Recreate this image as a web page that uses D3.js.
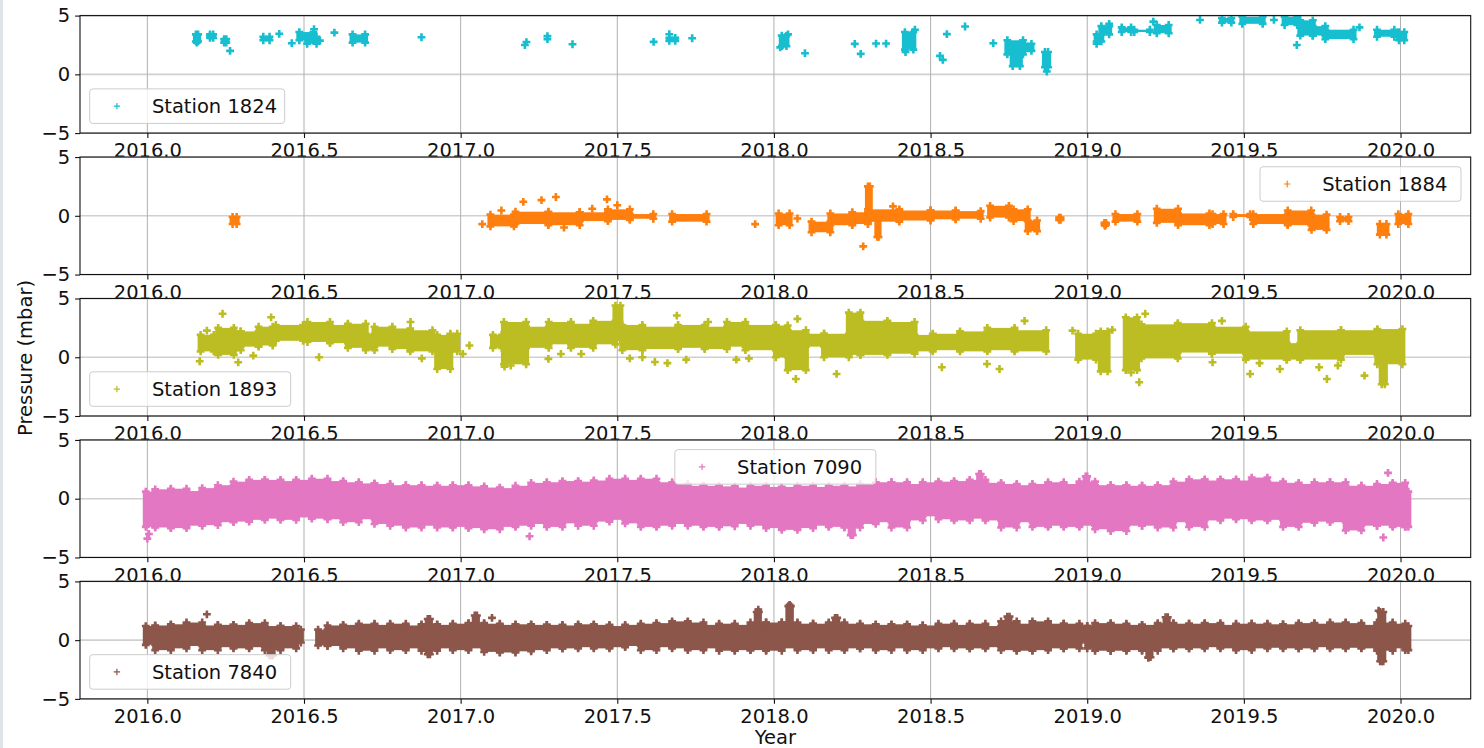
<!DOCTYPE html>
<html>
<head>
<meta charset="utf-8">
<script src="https://cdn.jsdelivr.net/npm/d3@7"></script>
<style>
  body { margin: 0; background: #fff; }
  text { font-family: "DejaVu Sans", sans-serif; }
</style>
</head>
<body>
<div id="mainchart"></div>
<script>
// ---- data (year, mbar) ----
// blocks: [t0, t1, low, high] dense clouds of '+' markers; pts: [t, value] single markers
var blk1824 = [
  [2016.155, 2016.162, 2.8, 3.4], [2016.200, 2016.210, 3.1, 3.4], [2016.245, 2016.252, 2.7, 3.0],
  [2016.370, 2016.390, 2.9, 3.2], [2016.485, 2016.530, 2.9, 3.6], [2016.510, 2016.540, 2.6, 3.2],
  [2016.655, 2016.695, 2.7, 3.4], [2017.666, 2017.685, 2.85, 3.1], [2018.025, 2018.040, 2.4, 3.3],
  [2018.418, 2018.445, 2.1, 3.6], [2018.745, 2018.795, 1.7, 2.9], [2018.762, 2018.785, 0.7, 2.0],
  [2018.800, 2018.822, 2.0, 2.6], [2018.865, 2018.875, 0.6, 1.9], [2019.030, 2019.045, 2.8, 3.4],
  [2019.045, 2019.070, 3.4, 4.1], [2019.110, 2019.140, 3.6, 4.0], [2019.150, 2019.200, 3.6, 3.8],
  [2019.222, 2019.260, 3.5, 4.2], [2019.430, 2019.460, 4.4, 4.8], [2019.495, 2019.560, 4.3, 4.9],
  [2019.630, 2019.670, 4.2, 4.9], [2019.680, 2019.720, 3.3, 4.6], [2019.720, 2019.760, 3.3, 4.1],
  [2019.760, 2019.850, 3.0, 3.8], [2019.925, 2019.980, 3.2, 3.8], [2019.995, 2020.012, 2.9, 3.6]
];
var pts1824 = [
  [2016.158, 2.7], [2016.200, 3.25], [2016.264, 2.0], [2016.421, 3.45], [2016.461, 2.65],
  [2016.532, 3.84], [2016.551, 2.87], [2016.597, 3.55], [2016.875, 3.16], [2017.205, 2.5],
  [2017.210, 2.75], [2017.277, 3.25], [2017.277, 3.0], [2017.357, 2.56], [2017.616, 2.76],
  [2017.666, 3.41], [2017.739, 3.07], [2018.020, 2.3], [2018.045, 3.4], [2018.099, 1.8],
  [2018.258, 2.59], [2018.277, 1.74], [2018.326, 2.62], [2018.358, 2.62], [2018.420, 1.9],
  [2018.450, 3.8], [2018.530, 1.57], [2018.539, 1.23], [2018.552, 3.42], [2018.610, 4.07],
  [2018.700, 2.65], [2018.871, 0.24], [2019.030, 2.6], [2019.070, 4.3], [2019.211, 4.49],
  [2019.360, 4.63], [2019.596, 4.63], [2019.669, 2.5], [2019.869, 4.0]
];

var blk1884 = [
  [2016.272, 2016.285, -0.7, -0.1], [2017.095, 2017.170, -0.9, 0.1], [2017.175, 2017.280, -0.7, 0.35],
  [2017.280, 2017.380, -0.8, 0.3], [2017.380, 2017.470, -0.45, 0.3], [2017.470, 2017.540, -0.35, 0.55],
  [2017.540, 2017.615, -0.25, 0.15], [2017.675, 2017.785, -0.5, 0.15], [2018.015, 2018.050, -0.8, 0.2],
  [2018.120, 2018.180, -1.4, -0.5], [2018.180, 2018.250, -0.8, 0.2], [2018.250, 2018.300, -0.7, 0.3],
  [2018.300, 2018.306, -0.4, 2.5], [2018.330, 2018.334, -1.8, -0.2], [2018.300, 2018.400, -0.5, 0.55],
  [2018.400, 2018.500, -0.4, 0.45], [2018.500, 2018.580, -0.3, 0.45], [2018.580, 2018.660, -0.25, 0.4],
  [2018.690, 2018.750, -0.15, 0.85], [2018.765, 2018.810, -0.45, 0.55], [2018.810, 2018.840, -1.3, -0.4],
  [2018.910, 2018.915, -0.35, -0.15], [2019.055, 2019.060, -0.75, -0.6], [2019.090, 2019.160, -0.5, 0.15],
  [2019.222, 2019.290, -0.6, 0.6], [2019.290, 2019.390, -0.8, 0.2], [2019.400, 2019.435, -0.7, 0.15],
  [2019.466, 2019.520, -0.1, 0.15], [2019.530, 2019.640, -0.7, 0.15], [2019.640, 2019.715, -0.8, 0.45],
  [2019.716, 2019.764, -1.2, 0.1], [2019.807, 2019.834, -0.45, -0.1], [2019.934, 2019.955, -1.6, -0.7],
  [2019.993, 2020.025, -0.7, 0.15]
];
var pts1884 = [
  [2017.069, -0.71], [2017.130, 0.45], [2017.200, 1.19], [2017.258, 1.33], [2017.304, 1.6],
  [2017.330, -1.0], [2017.420, 0.6], [2017.467, 1.4], [2017.500, 0.9], [2017.940, -0.71],
  [2018.075, -0.23], [2018.285, -2.6], [2018.380, 0.8], [2018.913, -0.23], [2019.057, -0.85]
];

var blk1893 = [
  [2016.170, 2016.212, 0.5, 1.9], [2016.226, 2016.276, 0.2, 2.5], [2016.276, 2016.298, 0.6, 2.2],
  [2016.298, 2016.355, 0.9, 2.2], [2016.355, 2016.400, 1.0, 2.6], [2016.410, 2016.497, 1.4, 2.75],
  [2016.511, 2016.583, 1.3, 3.0], [2016.583, 2016.640, 1.2, 2.75], [2016.640, 2016.697, 0.8, 2.85],
  [2016.697, 2016.725, 0.6, 2.0], [2016.725, 2016.782, 0.9, 2.6], [2016.782, 2016.839, 0.7, 2.45],
  [2016.839, 2016.910, 0.5, 2.3], [2016.925, 2016.967, -1.0, 1.9], [2016.967, 2016.989, 0.5, 2.0],
  [2017.103, 2017.131, 0.8, 1.9], [2017.138, 2017.209, -0.6, 3.0], [2017.209, 2017.281, 0.8, 2.6],
  [2017.281, 2017.352, 1.1, 3.0], [2017.352, 2017.423, 0.8, 2.85], [2017.423, 2017.494, 1.1, 3.1],
  [2017.494, 2017.510, 1.5, 4.4], [2017.516, 2017.580, 0.6, 2.75], [2017.580, 2017.694, 0.7, 2.6],
  [2017.694, 2017.779, 0.8, 2.75], [2017.779, 2017.850, 0.7, 2.6], [2017.850, 2017.909, 0.9, 3.0],
  [2017.909, 2018.006, 0.6, 2.75], [2018.006, 2018.044, 0.0, 2.7], [2018.044, 2018.102, -1.1, 2.3],
  [2018.102, 2018.160, 0.9, 2.0], [2018.160, 2018.239, 0.0, 2.0], [2018.239, 2018.276, 0.2, 3.8],
  [2018.276, 2018.362, 0.2, 3.1], [2018.362, 2018.449, 0.3, 3.0], [2018.449, 2018.507, 0.5, 1.9],
  [2018.507, 2018.594, 0.6, 2.0], [2018.594, 2018.681, 0.5, 2.2], [2018.681, 2018.768, 0.6, 2.5],
  [2018.768, 2018.869, 0.5, 2.3], [2018.971, 2019.028, -0.2, 2.0], [2019.043, 2019.065, -1.2, 2.2],
  [2019.123, 2019.159, -1.1, 3.4], [2019.173, 2019.289, -0.1, 2.8], [2019.289, 2019.398, 0.4, 2.9],
  [2019.398, 2019.506, 0.3, 2.6], [2019.506, 2019.637, -0.2, 2.2], [2019.637, 2019.680, -0.2, 1.2],
  [2019.680, 2019.810, -0.2, 2.3], [2019.810, 2019.926, 0.2, 2.3], [2019.926, 2020.006, -0.6, 2.4],
  [2019.940, 2019.950, -2.3, 0.0]
];
var pts1893 = [
  [2016.167, -0.34], [2016.190, 2.27], [2016.240, 3.7], [2016.290, -0.43], [2016.338, 0.14],
  [2016.395, 3.4], [2016.548, 0.0], [2016.840, 3.0], [2016.876, -0.1], [2017.007, 0.28],
  [2017.028, 1.0], [2017.140, -0.8], [2017.160, -0.7], [2017.280, -0.14], [2017.320, 0.28],
  [2017.385, 0.28], [2017.540, -0.1], [2017.580, 0.0], [2017.620, -0.4], [2017.660, -0.5],
  [2017.690, 3.55], [2017.720, -0.2], [2017.790, 3.0], [2017.880, -0.2], [2017.920, -0.1],
  [2018.070, -1.85], [2018.075, 3.27], [2018.200, -1.42], [2018.536, -0.85], [2018.680, -0.57],
  [2018.720, -1.0], [2018.800, 3.1], [2018.953, 2.27], [2019.080, 2.33], [2019.140, -1.3],
  [2019.166, -2.13], [2019.185, 3.7], [2019.400, -0.43], [2019.430, 3.1], [2019.520, -1.42],
  [2019.550, -0.5], [2019.615, -1.0], [2019.740, -0.85], [2019.765, -1.85], [2019.800, -0.7],
  [2019.885, -1.56]
];

var blk7090 = [
  [2015.995, 2016.025, -2.4, 0.6], [2016.025, 2016.075, -2.45, 0.8], [2016.075, 2016.125, -2.5, 0.85],
  [2016.125, 2016.175, -2.3, 0.65], [2016.175, 2016.225, -2.25, 0.9], [2016.225, 2016.275, -2.0, 1.15],
  [2016.275, 2016.325, -1.95, 1.45], [2016.325, 2016.375, -1.8, 1.6], [2016.375, 2016.425, -1.7, 1.6],
  [2016.425, 2016.475, -1.8, 1.5], [2016.475, 2016.525, -1.6, 1.6], [2016.525, 2016.575, -1.7, 1.7],
  [2016.575, 2016.625, -1.75, 1.5], [2016.625, 2016.675, -2.0, 1.4], [2016.675, 2016.725, -1.75, 1.3],
  [2016.725, 2016.775, -2.15, 1.25], [2016.775, 2016.825, -2.3, 1.15], [2016.825, 2016.875, -2.45, 1.15],
  [2016.875, 2016.925, -2.3, 1.1], [2016.925, 2016.975, -2.45, 1.1], [2016.975, 2017.025, -2.4, 1.15],
  [2017.025, 2017.075, -2.5, 1.05], [2017.075, 2017.125, -2.6, 0.95], [2017.125, 2017.175, -2.4, 0.9],
  [2017.175, 2017.225, -2.3, 1.1], [2017.225, 2017.275, -2.15, 1.35], [2017.275, 2017.325, -2.4, 1.4],
  [2017.325, 2017.375, -2.1, 1.5], [2017.375, 2017.425, -2.3, 1.45], [2017.425, 2017.475, -1.95, 1.55],
  [2017.475, 2017.525, -1.8, 1.7], [2017.525, 2017.575, -2.1, 1.6], [2017.575, 2017.625, -2.4, 1.7],
  [2017.625, 2017.675, -2.3, 1.4], [2017.675, 2017.725, -2.15, 1.25], [2017.725, 2017.775, -2.3, 1.1],
  [2017.775, 2017.825, -2.4, 1.1], [2017.825, 2017.875, -2.35, 1.05], [2017.875, 2017.925, -2.15, 0.95],
  [2017.925, 2017.975, -2.3, 1.1], [2017.975, 2018.025, -2.5, 1.0], [2018.025, 2018.075, -2.65, 1.0],
  [2018.075, 2018.125, -2.5, 1.1], [2018.125, 2018.175, -2.3, 1.0], [2018.175, 2018.225, -2.4, 1.1],
  [2018.225, 2018.275, -2.45, 1.05], [2018.245, 2018.252, -3.1, -2.0], [2018.275, 2018.325, -2.15, 1.25],
  [2018.325, 2018.375, -2.0, 1.4], [2018.375, 2018.425, -2.45, 1.4], [2018.425, 2018.475, -1.85, 1.25],
  [2018.475, 2018.525, -1.5, 1.4], [2018.525, 2018.575, -1.75, 1.45], [2018.575, 2018.625, -1.85, 1.5],
  [2018.625, 2018.675, -1.7, 1.6], [2018.655, 2018.660, 0.0, 2.1], [2018.675, 2018.725, -1.85, 1.35],
  [2018.725, 2018.775, -2.45, 1.25], [2018.775, 2018.825, -2.0, 1.15], [2018.825, 2018.875, -2.4, 1.25],
  [2018.875, 2018.925, -2.3, 1.4], [2018.925, 2018.975, -2.4, 1.25], [2018.975, 2019.025, -2.3, 1.45],
  [2018.995, 2019.000, 0.0, 1.9], [2019.025, 2019.075, -2.6, 1.15], [2019.075, 2019.125, -2.75, 1.15],
  [2019.125, 2019.175, -2.3, 1.1], [2019.175, 2019.225, -2.3, 1.1], [2019.225, 2019.275, -2.45, 1.15],
  [2019.275, 2019.325, -2.0, 1.45], [2019.325, 2019.375, -2.4, 1.65], [2019.375, 2019.425, -1.85, 1.55],
  [2019.425, 2019.475, -1.7, 1.65], [2019.475, 2019.525, -1.75, 1.55], [2019.525, 2019.575, -1.85, 1.8],
  [2019.575, 2019.625, -1.8, 1.45], [2019.625, 2019.675, -2.4, 1.35], [2019.675, 2019.725, -2.05, 1.25],
  [2019.725, 2019.775, -1.95, 1.4], [2019.775, 2019.825, -2.0, 1.4], [2019.825, 2019.875, -2.7, 1.1],
  [2019.875, 2019.925, -2.3, 1.1], [2019.925, 2019.975, -2.3, 1.25], [2019.975, 2020.015, -2.4, 1.35],
  [2020.015, 2020.025, -2.4, 0.6]
];
var pts7090 = [
  [2016.000, -3.4], [2016.005, -3.0], [2017.220, -3.2], [2019.960, 2.2], [2019.945, -3.3]
];

var blk7840 = [
  [2015.995, 2016.025, -0.4, 1.2], [2016.025, 2016.075, -0.85, 1.25], [2016.075, 2016.125, -0.7, 1.35],
  [2016.125, 2016.175, -0.5, 1.5], [2016.175, 2016.225, -0.85, 1.25], [2016.225, 2016.275, -0.6, 1.3],
  [2016.275, 2016.325, -0.7, 1.3], [2016.325, 2016.375, -0.6, 1.45], [2016.375, 2016.425, -0.85, 1.2],
  [2016.390, 2016.400, -1.3, 0.0], [2016.425, 2016.475, -0.7, 1.2], [2016.475, 2016.490, -0.2, 0.9],
  [2016.545, 2016.575, -0.45, 0.9], [2016.575, 2016.625, -0.5, 1.25], [2016.625, 2016.675, -0.7, 1.3],
  [2016.675, 2016.725, -0.9, 1.4], [2016.725, 2016.775, -0.7, 1.3], [2016.775, 2016.825, -0.85, 1.4],
  [2016.825, 2016.875, -0.7, 1.25], [2016.875, 2016.925, -0.9, 1.35], [2016.895, 2016.902, -1.2, 1.8],
  [2016.925, 2016.975, -0.7, 1.3], [2016.975, 2017.025, -0.85, 1.4], [2017.025, 2017.075, -0.7, 1.45],
  [2017.045, 2017.052, 0.5, 2.1], [2017.075, 2017.125, -1.0, 1.4], [2017.125, 2017.175, -1.05, 1.3],
  [2017.175, 2017.225, -0.95, 1.35], [2017.225, 2017.275, -0.85, 1.3], [2017.275, 2017.325, -0.7, 1.3],
  [2017.325, 2017.375, -0.7, 1.25], [2017.375, 2017.425, -0.6, 1.35], [2017.425, 2017.475, -0.7, 1.3],
  [2017.475, 2017.525, -0.6, 1.2], [2017.525, 2017.575, -0.5, 1.3], [2017.575, 2017.625, -0.85, 1.4],
  [2017.625, 2017.675, -0.6, 1.45], [2017.675, 2017.725, -0.7, 1.6], [2017.725, 2017.775, -0.85, 1.5],
  [2017.775, 2017.825, -0.7, 1.3], [2017.825, 2017.875, -0.9, 1.4], [2017.875, 2017.925, -0.85, 1.3],
  [2017.925, 2017.975, -0.85, 1.5], [2017.945, 2017.952, 0.5, 2.4], [2017.975, 2018.025, -0.9, 1.5],
  [2018.025, 2018.075, -0.7, 1.5], [2018.046, 2018.054, 0.5, 2.9], [2018.075, 2018.125, -0.85, 1.4],
  [2018.125, 2018.175, -0.7, 1.4], [2018.175, 2018.225, -0.85, 1.5], [2018.195, 2018.202, 0.5, 1.9],
  [2018.225, 2018.275, -0.7, 1.4], [2018.275, 2018.325, -0.7, 1.35], [2018.325, 2018.375, -0.85, 1.3],
  [2018.375, 2018.425, -0.7, 1.35], [2018.425, 2018.475, -0.85, 1.25], [2018.475, 2018.525, -0.7, 1.25],
  [2018.525, 2018.575, -0.6, 1.4], [2018.575, 2018.625, -0.7, 1.3], [2018.625, 2018.675, -0.7, 1.4],
  [2018.675, 2018.725, -0.6, 1.2], [2018.725, 2018.775, -0.85, 1.6], [2018.745, 2018.752, 0.5, 2.0],
  [2018.775, 2018.825, -0.9, 1.4], [2018.825, 2018.875, -0.85, 1.6], [2018.875, 2018.925, -0.7, 1.4],
  [2018.925, 2018.975, -0.7, 1.4], [2018.975, 2019.000, -0.2, 1.2], [2019.000, 2019.025, -0.7, 1.2],
  [2019.025, 2019.075, -0.9, 1.45], [2019.075, 2019.125, -0.9, 1.4], [2019.125, 2019.175, -0.85, 1.3],
  [2019.175, 2019.225, -0.9, 1.3], [2019.195, 2019.202, -1.45, 0.0], [2019.225, 2019.275, -0.7, 1.45],
  [2019.250, 2019.257, 0.5, 1.95], [2019.275, 2019.325, -0.7, 1.4], [2019.325, 2019.375, -0.7, 1.4],
  [2019.375, 2019.425, -0.6, 1.45], [2019.425, 2019.475, -0.7, 1.3], [2019.475, 2019.525, -0.85, 1.4],
  [2019.525, 2019.575, -0.7, 1.4], [2019.575, 2019.625, -0.65, 1.35], [2019.625, 2019.675, -0.7, 1.35],
  [2019.675, 2019.725, -0.7, 1.45], [2019.725, 2019.775, -0.6, 1.4], [2019.775, 2019.825, -0.7, 1.5],
  [2019.825, 2019.875, -0.65, 1.45], [2019.875, 2019.925, -0.7, 1.3], [2019.925, 2019.975, -0.9, 1.5],
  [2019.935, 2019.945, -1.8, 2.4], [2019.975, 2020.015, -0.7, 1.4], [2020.015, 2020.025, -0.85, 1.2]
];
var pts7840 = [
  [2016.190, 2.2], [2016.395, -1.3], [2017.100, 1.9], [2017.950, 2.6], [2018.050, 3.0],
  [2019.195, -1.5], [2019.930, 2.5], [2019.940, -1.8]
];

var stations = ['Station 1824', 'Station 1884', 'Station 1893', 'Station 7090', 'Station 7840'];
var colors = ['#17becf', '#ff7f0e', '#bcbd22', '#e377c2', '#8c564b'];
var legendLoc = ['lower left', 'upper right', 'lower left', 'upper center', 'lower left'];
var xTicks = [2016.0, 2016.5, 2017.0, 2017.5, 2018.0, 2018.5, 2019.0, 2019.5, 2020.0];
var yTicks = [-5, 0, 5];
var blocks = [blk1824, blk1884, blk1893, blk7090, blk7840];
var points = [pts1824, pts1884, pts1893, pts7090, pts7840];

drawChart();

function drawChart(){
  var width = 1484, height = 748;
  var left = 80, right = 1470.7, panelH = 117.5, gap = 141.45, top0 = 15.6;
  var fs = 19.5;

  var svg = d3.select('#mainchart').append('svg')
    .attr('width', width).attr('height', height);

  // left window edge strip
  svg.append('rect').attr('x', 0).attr('y', 0).attr('width', 3).attr('height', height).attr('fill', '#dde4ea');

  var x = d3.scaleLinear().domain([2015.785, 2020.224]).range([left, right]);
  var cross = d3.symbol().type(d3.symbolCross).size(34);
  var defs = svg.append('defs');

  stations.forEach(function(name, i){
    var top = top0 + i * gap;
    var y = d3.scaleLinear().domain([-5, 5]).range([top + panelH, top]);
    var col = colors[i];
    var g = svg.append('g').attr('class', 'panel');

    g.append('rect').attr('x', left).attr('y', top)
      .attr('width', right - left).attr('height', panelH).attr('fill', '#fff');

    defs.append('clipPath').attr('id', 'clip' + i)
      .append('rect').attr('x', left).attr('y', top)
      .attr('width', right - left).attr('height', panelH);

    // grid
    g.selectAll('line.vgrid').data(xTicks).enter().append('line')
      .attr('class', 'vgrid')
      .attr('x1', d => x(d)).attr('x2', d => x(d))
      .attr('y1', top).attr('y2', top + panelH)
      .attr('stroke', '#b0b0b0').attr('stroke-width', 1);
    g.selectAll('line.hgrid').data(yTicks).enter().append('line')
      .attr('class', 'hgrid')
      .attr('x1', left).attr('x2', right)
      .attr('y1', d => y(d)).attr('y2', d => y(d))
      .attr('stroke', '#b0b0b0').attr('stroke-opacity', 0.6).attr('stroke-width', 1.6);

    var dg = g.append('g').attr('clip-path', 'url(#clip' + i + ')');

    dg.selectAll('rect.blk').data(blocks[i]).enter().append('rect')
      .attr('class', 'blk')
      .attr('x', d => x(d[0]) - 3)
      .attr('width', d => x(d[1]) - x(d[0]) + 6)
      .attr('y', d => y(d[3]))
      .attr('height', d => y(d[2]) - y(d[3]))
      .attr('fill', col);

    // markers at the edges of each cloud, then the single markers
    var edge = [];
    blocks[i].forEach(function(b){
      edge.push([b[0], b[3]], [b[1], b[3]], [b[0], b[2]], [b[1], b[2]]);
    });
    dg.selectAll('path.mk').data(edge.concat(points[i])).enter().append('path')
      .attr('class', 'mk')
      .attr('d', cross)
      .attr('transform', d => 'translate(' + x(d[0]) + ',' + y(d[1]) + ')')
      .attr('fill', col);

    // spines
    g.append('rect').attr('x', left).attr('y', top)
      .attr('width', right - left).attr('height', panelH)
      .attr('fill', 'none').attr('stroke', '#111').attr('stroke-width', 1.1);

    var xAxis = d3.axisBottom(x).tickValues(xTicks).tickFormat(d3.format('.1f'))
      .tickSize(4.9).tickSizeOuter(0).tickPadding(5.5);
    var yAxis = d3.axisLeft(y).tickValues(yTicks).tickFormat(d3.format('d'))
      .tickSize(4.9).tickSizeOuter(0).tickPadding(4.9);

    var xa = g.append('g').attr('class', 'x axis')
      .attr('transform', 'translate(0,' + (top + panelH) + ')').call(xAxis);
    var ya = g.append('g').attr('class', 'y axis')
      .attr('transform', 'translate(' + left + ',0)').call(yAxis);
    [xa, ya].forEach(function(a){
      a.select('.domain').remove();
      a.attr('font-size', fs).attr('font-family', 'DejaVu Sans');
      a.selectAll('line').attr('stroke', '#111').attr('stroke-width', 1.1);
      a.selectAll('text').attr('fill', '#111');
    });

    // legend
    var lw = (i === 0) ? 195 : 201, lh = 34.5, pad = 9.7;
    var lx, ly;
    if (legendLoc[i] === 'lower left') { lx = left + pad; ly = top + panelH - pad - lh; }
    else if (legendLoc[i] === 'upper right') { lx = right - pad - lw; ly = top + pad; }
    else { lx = (left + right) / 2 - lw / 2; ly = top + pad; }
    var lg = g.append('g').attr('transform', 'translate(' + lx + ',' + ly + ')');
    lg.append('rect').attr('width', lw).attr('height', lh).attr('rx', 3)
      .attr('fill', '#fff').attr('fill-opacity', 0.8)
      .attr('stroke', '#cccccc').attr('stroke-width', 1);
    lg.append('path').attr('d', 'M-3.2,0H3.2M0,-3.2V3.2')
      .attr('transform', 'translate(27.2,' + (lh / 2) + ')')
      .attr('stroke', col).attr('stroke-width', 1.2);
    lg.append('text').attr('x', 62.2).attr('y', lh / 2).attr('dy', '0.36em')
      .attr('font-size', fs).attr('fill', '#111').text(name);
  });

  svg.append('text').attr('transform', 'translate(32,358) rotate(-90)')
    .attr('text-anchor', 'middle').attr('font-size', fs).attr('fill', '#111')
    .text('Pressure (mbar)');
  svg.append('text').attr('x', (left + right) / 2).attr('y', 743.5)
    .attr('text-anchor', 'middle').attr('font-size', fs).attr('fill', '#111')
    .text('Year');
}
</script>
</body>
</html>
